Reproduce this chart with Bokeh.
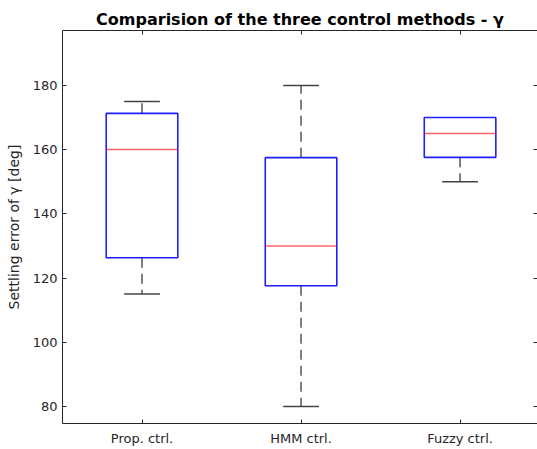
import numpy as np
from bokeh.plotting import figure
from bokeh.models import ColumnDataSource, FixedTicker, LinearAxis, Range1d
from bokeh.embed import file_html
from bokeh.resources import INLINE

# ---- data ----
categories = ["Prop. ctrl.", "HMM ctrl.", "Fuzzy ctrl."]
lower_whisker = [115.0, 80.0, 150.0]
q1 = [126.3, 117.6, 157.6]
median = [160.0, 130.0, 165.0]
q3 = [171.3, 157.5, 170.0]
upper_whisker = [175.0, 180.0, 170.0]
y_ticks = [80, 100, 120, 140, 160, 180]

pos = np.arange(1, len(categories) + 1, dtype=float)
box_w = 0.45
cap_w = box_w / 2.0

src = ColumnDataSource(dict(
    x=pos,
    lw=lower_whisker, q1=q1, med=median, q3=q3, uw=upper_whisker,
    bl=pos - box_w / 2, br=pos + box_w / 2,
    cl=pos - cap_w / 2, cr=pos + cap_w / 2,
))

# caps only where the whisker extends beyond the box
uw_a, q3_a = np.array(upper_whisker), np.array(q3)
lw_a, q1_a = np.array(lower_whisker), np.array(q1)
up_m = uw_a > q3_a
lo_m = lw_a < q1_a
up_src = ColumnDataSource(dict(cl=(pos - cap_w / 2)[up_m], cr=(pos + cap_w / 2)[up_m], y=uw_a[up_m]))
lo_src = ColumnDataSource(dict(cl=(pos - cap_w / 2)[lo_m], cr=(pos + cap_w / 2)[lo_m], y=lw_a[lo_m]))

FONT = "DejaVu Sans"
AX = "#262626"

p = figure(width=537, height=449, output_backend="svg", toolbar_location=None,
           x_range=Range1d(0.5, 3.487), y_range=Range1d(74.7, 197.1),
           min_border_left=62, min_border_right=0, min_border_bottom=26,
           min_border_top=30, background_fill_color="white",
           border_fill_color="white")
p.outline_line_color = None
p.xgrid.visible = False
p.ygrid.visible = False

p.title.text = "Comparision of the three control methods - γ"
p.title.text_font = FONT
p.title.text_font_size = "16px"
p.title.text_font_style = "bold"
p.title.text_color = "black"
p.title.align = "center"
p.title.standoff = 4

# bottom axis
xa = p.xaxis[0]
xa.ticker = FixedTicker(ticks=list(pos))
xa.major_label_overrides = {float(v): c for v, c in zip(pos, categories)}
xa.major_label_overrides.update({int(v): c for v, c in zip(pos, categories)})
# left axis
ya = p.yaxis[0]
ya.ticker = FixedTicker(ticks=y_ticks)
ya.axis_label = "Settling error of γ [deg]"

for ax in (xa, ya):
    ax.axis_line_color = AX
    ax.major_tick_line_color = AX
    ax.major_tick_in = 4
    ax.major_tick_out = 0
    ax.minor_tick_line_color = None
    ax.major_label_text_font = FONT
    ax.major_label_text_font_size = "13px"
    ax.major_label_text_color = AX
    ax.major_label_standoff = 7
ya.major_label_standoff = 5
ya.axis_label_text_font = FONT
ya.axis_label_text_font_size = "14px"
ya.axis_label_text_font_style = "normal"
ya.axis_label_text_color = AX
ya.axis_label_standoff = 8

# top and right frame axes (ticks only)
top = LinearAxis(ticker=FixedTicker(ticks=list(pos)))
right = LinearAxis(ticker=FixedTicker(ticks=y_ticks))
for ax, line in ((top, AX), (right, None)):
    ax.axis_line_color = line
    ax.major_tick_line_color = AX
    ax.major_tick_in = 4
    ax.major_tick_out = 0
    ax.minor_tick_line_color = None
    ax.major_label_text_font_size = "0px"
    ax.major_label_standoff = 0
    ax.major_label_text_color = None
p.add_layout(top, "above")
p.add_layout(right, "right")

# whiskers (dashed, from box edge outward)
p.segment(x0="x", y0="q3", x1="x", y1="uw", source=src,
          line_color="#555555", line_width=1.5, line_dash="10 6")
p.segment(x0="x", y0="q1", x1="x", y1="lw", source=src,
          line_color="#555555", line_width=1.5, line_dash="10 6")
# caps
p.segment(x0="cl", y0="y", x1="cr", y1="y", source=up_src,
          line_color="#444444", line_width=1.5)
p.segment(x0="cl", y0="y", x1="cr", y1="y", source=lo_src,
          line_color="#444444", line_width=1.5)
# boxes
p.quad(left="bl", right="br", bottom="q1", top="q3", source=src,
       fill_color=None, line_color="#1f1fff", line_width=1.6, line_alpha=1.0)
# medians
p.segment(x0="bl", y0="med", x1="br", y1="med", source=src,
          line_color="#ff0000", line_width=1.5, line_alpha=0.6)

open("out.html", "w").write(file_html(p, INLINE))
